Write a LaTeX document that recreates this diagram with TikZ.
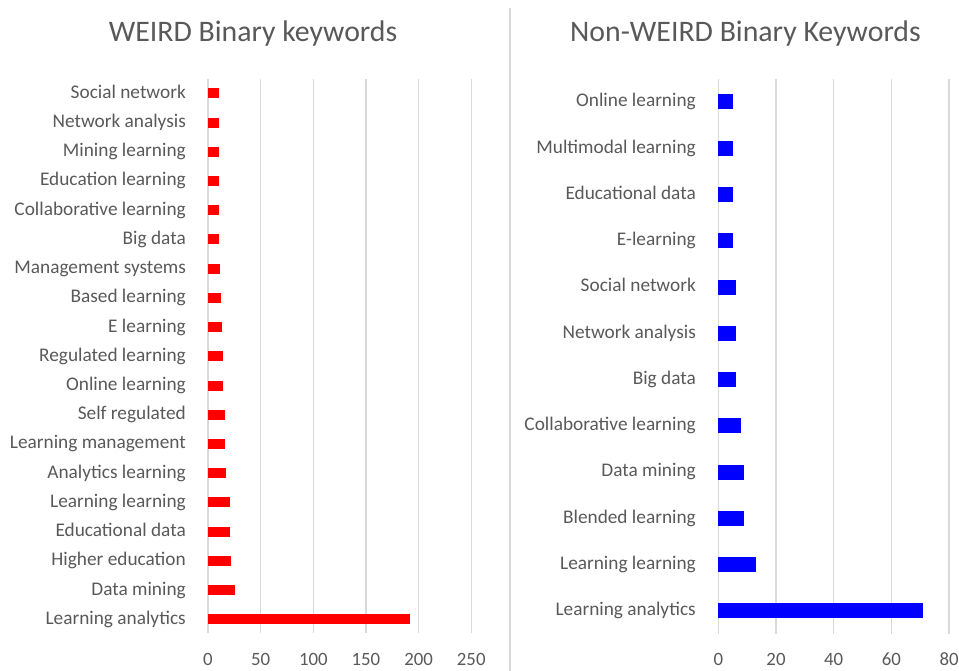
\documentclass[tikz,border=0pt]{standalone}
\usepackage{fontspec}
\setmainfont{Carlito}
\definecolor{txtgray}{HTML}{595959}
\definecolor{gridgray}{HTML}{D9D9D9}
\tikzset{
  catlabel/.style={anchor=base east, text=txtgray, inner sep=0pt, font=\fontsize{19.3}{21}\selectfont},
  ticklabel/.style={anchor=base, text=txtgray, inner sep=0pt, font=\fontsize{18.8}{20}\selectfont},
  charttitle/.style={anchor=base, text=txtgray, inner sep=0pt, font=\fontsize{29.8}{33}\selectfont},
  gridline/.style={draw=gridgray, line width=1.3pt},
  weirdbar/.style={fill=red},
  nonweirdbar/.style={fill=blue}
}
\begin{document}
\begin{tikzpicture}[x=1pt, y=-1pt]
  \useasboundingbox (0,0) rectangle (959,671);

  \node[charttitle] (wtitle) at (253,41.7) {WEIRD Binary keywords};
  \node[charttitle] (ntitle) at (745.5,41.7) {Non-WEIRD Binary Keywords};
  \coordinate (septop) at (510,8);
  \coordinate (sepbot) at (510,671);
  \draw[draw=gridgray, line width=2pt] (septop) -- (sepbot);

  % WEIRD chart
  \foreach \v in {0,50,...,250} {
    \draw[gridline] (208+\v*1.053,79) -- (208+\v*1.053,633);
    \node[ticklabel] (wtick\v) at (208+\v*1.053,665) {\v};
  }
  \foreach \kw/\cnt [count=\i from 0] in {Social network/10, Network analysis/10,
      Mining learning/10, Education learning/10, Collaborative learning/10,
      Big data/10, Management systems/11, Based learning/12, E learning/13,
      Regulated learning/14, Online learning/14, Self regulated/16,
      Learning management/16, Analytics learning/17, Learning learning/21,
      Educational data/21, Higher education/22, Data mining/26,
      Learning analytics/192} {
    \node[catlabel] (wkw\i) at (186,98.3+\i*29.22) {\kw};
    \fill[weirdbar] (208,88.3+\i*29.22) rectangle ++(\cnt*1.053,10);
  }

  % Non-WEIRD chart
  \foreach \v in {0,20,...,80} {
    \draw[gridline] (718.3+\v*2.885,79) -- (718.3+\v*2.885,634);
    \node[ticklabel] (ntick\v) at (718.3+\v*2.885,665) {\v};
  }
  \foreach \kw/\cnt [count=\i from 0] in {Online learning/5, Multimodal learning/5,
      Educational data/5, E-learning/5, Social network/6, Network analysis/6,
      Big data/6, Collaborative learning/8, Data mining/9, Blended learning/9,
      Learning learning/13, Learning analytics/71} {
    \node[catlabel] (nkw\i) at (696,106.8+\i*46.27) {\kw};
    \fill[nonweirdbar] (718.3,94.5+\i*46.27) rectangle ++(\cnt*2.885,15);
  }
\end{tikzpicture}
\end{document}
